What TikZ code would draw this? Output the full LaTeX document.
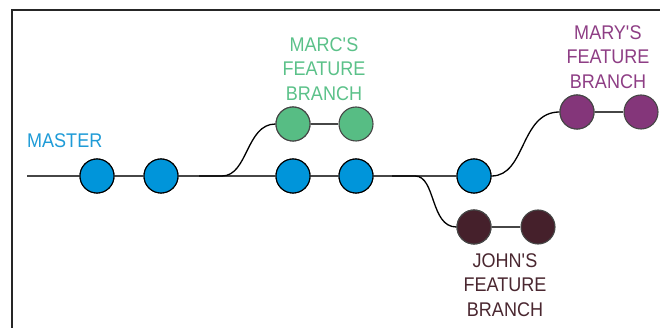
\documentclass[tikz,border=0pt]{standalone}
\usepackage{fontspec}
\setmainfont{Liberation Sans}[FakeStretch=0.91]
\definecolor{cblue}{RGB}{0,149,218}
\definecolor{tblue}{RGB}{30,155,215}
\definecolor{cgreen}{RGB}{87,189,132}
\definecolor{tgreen}{RGB}{91,193,137}
\definecolor{cpurple}{RGB}{132,54,122}
\definecolor{tpurple}{RGB}{142,62,133}
\definecolor{cdark}{RGB}{69,32,43}
\definecolor{tdark}{RGB}{74,39,48}
\definecolor{lgray}{RGB}{70,70,70}
\tikzset{
  commit/.style={circle, minimum size=34pt, inner sep=0pt, line width=1.1pt},
  bluec/.style={commit, fill=cblue, draw=black},
  greenc/.style={commit, fill=cgreen, draw=lgray},
  purplec/.style={commit, fill=cpurple, draw=lgray},
  darkc/.style={commit, fill=cdark, draw=lgray},
  link/.style={draw=lgray, line width=1.4pt},
  curve/.style={draw=black, line width=1.3pt},
  lbl/.style={font=\fontsize{19.8}{24.5}\selectfont, align=center, inner sep=0pt},
}
\begin{document}
\begin{tikzpicture}[x=1pt, y=-1pt]
\useasboundingbox (0,0) rectangle (660,328);
\draw[line width=1.6pt, draw=black!85] (12,328) -- (12,10) -- (660,10);
% commits
\node[bluec] (m1) at (97,176) {};
\node[bluec] (m2) at (161,176) {};
\node[bluec] (m3) at (293,176) {};
\node[bluec] (m4) at (356,176) {};
\node[bluec] (m5) at (474,176) {};
\node[greenc] (g1) at (293,124) {};
\node[greenc] (g2) at (356,124) {};
\node[purplec] (p1) at (577,112) {};
\node[purplec] (p2) at (641,112) {};
\node[darkc] (d1) at (474,227) {};
\node[darkc] (d2) at (538,227) {};
% coordinates
\coordinate (start) at (27,176);
\coordinate (gs) at (199,176);
\coordinate (ds) at (392,176);
% main line
\path[link] (start) -- (m1) (m1) -- (m2) (m2) -- (m3) (m3) -- (m4) (m4) -- (m5);
\path[link] (g1) -- (g2) (p1) -- (p2) (d1) -- (d2);
% branches
\path[curve] (gs) -- ++(23,0) .. controls (248,176) and (246,124) .. (g1.west);
\path[curve] (ds) -- ++(23,0) .. controls (436,176) and (430,227) .. (d1.west);
\path[curve] (m5.east) .. controls (526,176) and (520,112) .. (p1.west);
% redraw nodes on top
\node[bluec] at (m1) {};
\node[bluec] at (m2) {};
\node[bluec] at (m3) {};
\node[bluec] at (m4) {};
\node[bluec] at (m5) {};
\node[greenc] at (g1) {};
\node[purplec] at (p1) {};
\node[darkc] at (d1) {};
% labels
\node[lbl, text=tblue, anchor=base west] (lmaster) at (27,148) {MASTER};
\node[lbl, text=tgreen, anchor=north] (lmarc) at (324,37) {MARC\textquotesingle S\\FEATURE\\BRANCH};
\node[lbl, text=tpurple, anchor=north] (lmary) at (608,25) {MARY\textquotesingle S\\FEATURE\\BRANCH};
\node[lbl, text=tdark, anchor=north] (ljohn) at (505,253) {JOHN\textquotesingle S\\FEATURE\\BRANCH};
\end{tikzpicture}
\end{document}
